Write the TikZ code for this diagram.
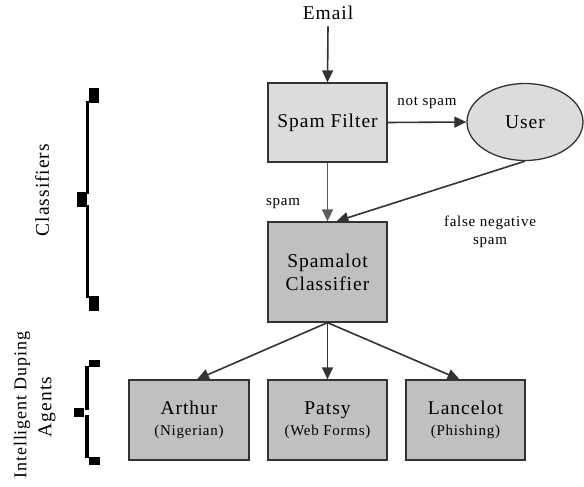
\documentclass[tikz,border=0pt]{standalone}
\usepackage{fontspec}
\setmainfont{Liberation Serif}[LetterSpace=5]
\usetikzlibrary{arrows.meta,shapes.geometric,calc}
\definecolor{lightfill}{HTML}{DCDCDC}
\definecolor{midfill}{HTML}{C0C0C0}
\definecolor{edge}{HTML}{333333}
\begin{document}
\begin{tikzpicture}[x=1pt,y=-1pt,
  bigtxt/.style={font=\fontsize{19.5}{22}\selectfont},
  smalltxt/.style={font=\fontsize{15}{18}\selectfont},
  box/.style={draw=edge,line width=1.3pt,rectangle,inner sep=0pt,align=center,
    minimum width=119pt,minimum height=79pt,font=\fontsize{19.5}{23}\selectfont},
  conn/.style={draw=edge,line width=1.6pt,-{Triangle[length=12pt,width=11pt]}},
  brk/.style={fill=black,draw=none}]
\useasboundingbox (0,0) rectangle (584,487);
\node[bigtxt] (email) at (328,13) {Email};
\node[box,fill=lightfill] (sf) at (327.5,122.5) {Spam Filter};
\node[draw=edge,line width=1.3pt,ellipse,fill=lightfill,minimum width=116pt,minimum height=77pt,inner sep=0pt,bigtxt] (user) at (525,122) {User};
\node[box,fill=midfill,minimum height=100pt] (sc) at (327.5,272) {Spamalot\\Classifier};
\node[box,fill=midfill,minimum width=120pt,minimum height=80pt] (ar) at (189,420) {Arthur\\[-2pt]{\fontsize{15}{18}\selectfont(Nigerian)}};
\node[box,fill=midfill,minimum height=80pt] (pa) at (327.5,420) {Patsy\\[-2pt]{\fontsize{15}{18}\selectfont(Web Forms)}};
\node[box,fill=midfill,minimum height=80pt] (la) at (465.5,420) {Lancelot\\[-2pt]{\fontsize{15}{18}\selectfont(Phishing)}};
\node[smalltxt] (lnot) at (427,103) {not spam};
\node[smalltxt] (lspam) at (283,204) {spam};
\node[smalltxt,align=center] (lfn) at (490,232) {false negative\\spam};
\node[bigtxt,rotate=90] (lcl) at (42,190) {Classifiers};
\node[font=\fontsize{18}{20}\selectfont,rotate=90,inner sep=0pt] (lida) at (22,405) {Intelligent Duping};
\node[bigtxt,rotate=90] (lag) at (47,407) {Agents};
\draw[conn] ($(email.south)+(0,3)$) -- (sf.north);
\draw[conn] (sf.east) -- (user.west);
\draw[conn,draw=edge!80] (sf.south) -- (sc.north);
\draw[conn] (user.south) -- ($(sc.north)+(9,0)$);
\draw[conn] (sc.south) -- ($(ar.north)+(8,0)$);
\draw[conn] (sc.south) -- (pa.north);
\draw[conn] (sc.south) -- ($(la.north)+(-6,0)$);
% Classifiers bracket
\fill[brk] (89,88) rectangle (99,103);
\fill[brk] (86,101) rectangle (89,194);
\fill[brk] (77,192) rectangle (87,207);
\fill[brk] (86,205) rectangle (89,298);
\fill[brk] (89,296) rectangle (99,311);
% Agents bracket
\fill[brk] (89,360) rectangle (100,367);
\fill[brk] (85,366) rectangle (89,410);
\fill[brk] (74,408) rectangle (84,417);
\fill[brk] (85,415) rectangle (89,458);
\fill[brk] (89,457) rectangle (100,465);
\end{tikzpicture}
\end{document}
